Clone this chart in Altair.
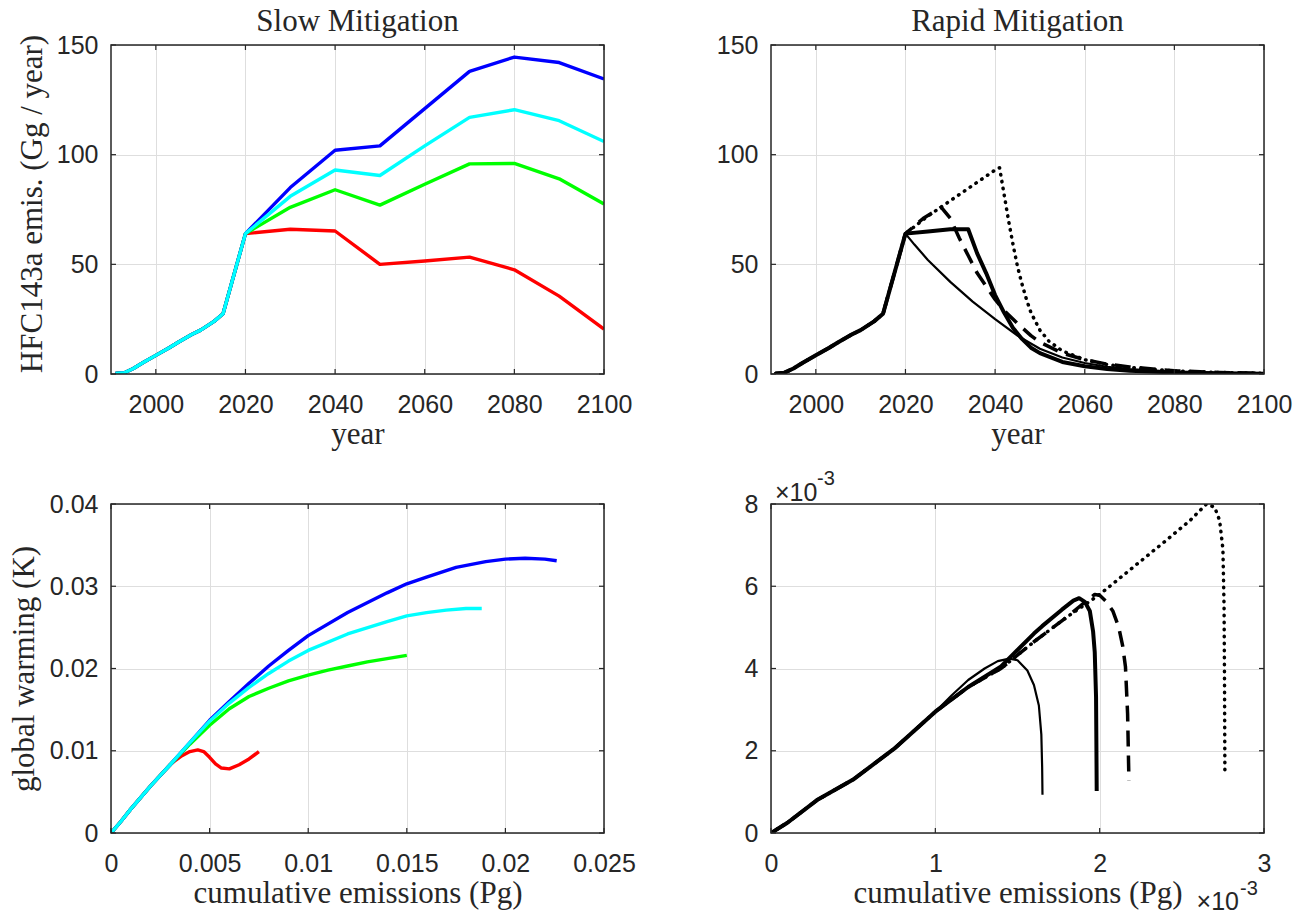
import altair as alt
import pandas as pd

# ---------------- data ----------------
# historical HFC143a emissions (Gg / year)
hist_years = [1991, 1993, 1995, 1997, 2000, 2003, 2005, 2008, 2010, 2013, 2015, 2020]
hist_emis = [0.2, 0.6, 2.5, 5.0, 8.5, 12.0, 14.5, 18.0, 20.0, 24.0, 27.5, 64.0]

# slow mitigation scenarios (after 2020)
slow_years = [2030, 2040, 2050, 2060, 2070, 2080, 2090, 2100]
slow_blue = [85, 102, 104, 121, 138, 144.5, 142, 134.5]
slow_cyan = [81, 93, 90.5, 104, 117, 120.5, 115.5, 106]
slow_green = [76, 84, 77, 86.5, 95.8, 96, 89, 77.5]
slow_red = [66, 65.2, 50, 51.5, 53.3, 47.5, 35.5, 20.5]

# rapid mitigation scenarios (after 2020)
thin_years = [2022, 2025, 2030, 2035, 2040, 2045, 2050, 2055, 2060, 2065, 2070, 2080, 2090, 2100]
thin_emis = [59, 52, 42, 33, 25, 17.5, 11.5, 7.5, 5, 3.3, 2.2, 1.0, 0.5, 0.2]
thick_years = [2025, 2030, 2034, 2036, 2038, 2040, 2042, 2044, 2046, 2048, 2050, 2055, 2060, 2065, 2070, 2080, 2090, 2100]
thick_emis = [65, 66, 66, 55, 46, 36, 28, 21, 16, 12, 9.5, 5.5, 3.5, 2.3, 1.5, 0.7, 0.3, 0.1]
dash_years = [2024, 2028, 2030, 2032, 2034, 2036, 2038, 2040, 2042, 2045, 2048, 2050, 2055, 2060, 2065, 2070, 2080, 2090, 2100]
dash_emis = [71, 76, 71, 62, 54, 46, 40, 34, 29, 23, 17.5, 14.5, 9.5, 6.5, 4.5, 3.2, 1.5, 0.7, 0.3]
dot_years = [2025, 2030, 2035, 2040, 2041, 2042, 2043, 2044, 2045, 2046, 2047, 2048, 2050, 2052, 2055, 2060, 2065, 2070, 2080, 2090, 2100]
dot_emis = [72, 79, 86, 93, 94, 82, 70, 59, 49, 41, 34, 28, 20, 15, 10.5, 6.5, 4.3, 3.0, 1.4, 0.7, 0.3]

# warming vs cumulative emissions, slow mitigation (Pg, K)
sw_common_x = [0, 0.0005, 0.001, 0.0015, 0.002, 0.0025, 0.003]
sw_common_y = [0, 0.0014, 0.0029, 0.0043, 0.0057, 0.0070, 0.0083]
sw_blue_x = [0.004, 0.005, 0.006, 0.007, 0.008, 0.009, 0.010, 0.012, 0.014, 0.015, 0.016, 0.0175, 0.019, 0.020, 0.021, 0.022, 0.0226]
sw_blue_y = [0.0110, 0.0137, 0.0160, 0.0182, 0.0203, 0.0222, 0.0240, 0.0268, 0.0292, 0.0303, 0.0311, 0.0323, 0.0330, 0.0333, 0.0334, 0.0333, 0.0331]
sw_cyan_x = [0.004, 0.005, 0.006, 0.007, 0.008, 0.009, 0.010, 0.012, 0.014, 0.015, 0.016, 0.017, 0.018, 0.0188]
sw_cyan_y = [0.0110, 0.0136, 0.0158, 0.0177, 0.0194, 0.0209, 0.0222, 0.0242, 0.0257, 0.0264, 0.0268, 0.0271, 0.0273, 0.0273]
sw_green_x = [0.004, 0.005, 0.006, 0.007, 0.008, 0.009, 0.010, 0.011, 0.012, 0.013, 0.014, 0.015]
sw_green_y = [0.0108, 0.0131, 0.0151, 0.0166, 0.0176, 0.0185, 0.0192, 0.0198, 0.0203, 0.0208, 0.0212, 0.0216]
sw_red_x = [0.0032, 0.0036, 0.004, 0.0044, 0.0047, 0.005, 0.0053, 0.0056, 0.006, 0.0065, 0.007, 0.0075]
sw_red_y = [0.0087, 0.0094, 0.0099, 0.0101, 0.0099, 0.0092, 0.0084, 0.0079, 0.0078, 0.0083, 0.0090, 0.0099]

# warming vs cumulative emissions, rapid mitigation (units of 1e-3)
rw_common_x = [0, 0.1, 0.28, 0.5, 0.75, 1.0]
rw_common_y = [0, 0.25, 0.8, 1.3, 2.05, 2.95]
rw_thin_x = [1.1, 1.2, 1.3, 1.38, 1.45, 1.5, 1.56, 1.6, 1.63, 1.645, 1.65, 1.652]
rw_thin_y = [3.35, 3.72, 4.0, 4.18, 4.24, 4.2, 3.95, 3.6, 3.1, 2.4, 1.6, 0.93]
rw_thick_x = [1.2, 1.4, 1.5, 1.6, 1.65, 1.77, 1.84, 1.875, 1.91, 1.94, 1.96, 1.97, 1.978, 1.98, 1.982]
rw_thick_y = [3.55, 4.05, 4.45, 4.85, 5.03, 5.43, 5.65, 5.71, 5.62, 5.4, 4.9, 4.4, 3.3, 2.2, 1.02]
rw_dash_x = [1.2, 1.4, 1.6, 1.8, 1.9, 1.97, 2.0, 2.04, 2.08, 2.115, 2.14, 2.157, 2.17, 2.178]
rw_dash_y = [3.55, 4.0, 4.65, 5.25, 5.58, 5.8, 5.78, 5.63, 5.4, 5.02, 4.55, 4.04, 2.9, 1.27]
rw_dot_x = [1.2, 1.4, 1.6, 1.8, 2.0, 2.2, 2.4, 2.55, 2.65, 2.7, 2.73, 2.75, 2.757, 2.76, 2.762]
rw_dot_y = [3.55, 4.0, 4.65, 5.25, 5.8, 6.45, 7.1, 7.6, 8.0, 7.92, 7.6, 6.9, 5.5, 3.5, 1.5]

# ---------------- style ----------------
W, H = 493, 329
SERIF = "Liberation Serif"
SANS = "Liberation Sans"
INK = "#262626"
TFS = 31  # serif text size
LW = 3.4  # coloured line width
BLUE, CYAN, GREEN, RED, BLACK = "#0000ff", "#00ffff", "#00ff00", "#ff0000", "#000000"


def df(xs, ys):
    return pd.DataFrame({"x": xs, "y": ys, "i": list(range(len(xs)))})


def panel(lines, x_dom, y_dom, x_vals, y_vals, x_title, y_title, y_title_x, y_title_y,
          title=None, extras=()):
    lab = dict(labelFont=SANS, labelFontSize=25, labelColor=INK, labelFlush=False,
               labelOverlap=False, grid=True, gridColor="#dedede", gridWidth=1,
               domain=False, ticks=False, tickSize=0, format="~r",
               titleFont=SERIF, titleFontSize=TFS, titleFontWeight="normal", titleColor=INK)
    X = alt.X("x:Q", scale=alt.Scale(domain=x_dom, nice=False, zero=False),
              axis=alt.Axis(values=x_vals, title=x_title, labelPadding=18,
                            titleX=W / 2, titleY=69, titleAlign="center",
                            titleBaseline="alphabetic", **lab))
    if y_title:
        yaxis = alt.Axis(values=y_vals, title=y_title, labelPadding=13,
                         titleX=y_title_x, titleY=y_title_y, titleAlign="center",
                         titleBaseline="alphabetic", titleAngle=270, **lab)
    else:
        yaxis = alt.Axis(values=y_vals, title=None, labelPadding=13, **lab)
    Y = alt.Y("y:Q", scale=alt.Scale(domain=y_dom, nice=False, zero=False), axis=yaxis)

    layers = []
    for d, color, width, dash, cap in lines:
        kw = dict(color=color, strokeWidth=width, clip=True, strokeCap=cap, strokeJoin="round")
        if dash:
            kw["strokeDash"] = dash
        layers.append(alt.Chart(d).mark_line(**kw).encode(x=X, y=Y, order="i:Q"))

    # inward MATLAB-style ticks on all four sides
    xt = pd.DataFrame({"x": x_vals})
    yt = pd.DataFrame({"y": y_vals})
    tk = dict(color=INK, strokeWidth=1.2)
    layers.append(alt.Chart(xt).mark_rule(**tk).encode(x=X, y=alt.value(H), y2=alt.value(H - 5)))
    layers.append(alt.Chart(xt).mark_rule(**tk).encode(x=X, y=alt.value(0), y2=alt.value(5)))
    layers.append(alt.Chart(yt).mark_rule(**tk).encode(y=Y, x=alt.value(0), x2=alt.value(5)))
    layers.append(alt.Chart(yt).mark_rule(**tk).encode(y=Y, x=alt.value(W - 5), x2=alt.value(W)))

    one = pd.DataFrame({"a": [0]})
    layers.append(alt.Chart(one).mark_rect(fillOpacity=0, stroke=INK, strokeWidth=1.5).encode(
        x=alt.value(0), x2=alt.value(W), y=alt.value(0), y2=alt.value(H)))
    items = list(extras)
    if title:
        items.append((title, W / 2, -14, TFS, "center", SERIF))
    for txt, x, y, size, align, font in items:
        layers.append(alt.Chart(one).mark_text(text=txt, font=font, fontSize=size, color=INK,
                                               align=align, baseline="alphabetic").encode(
            x=alt.value(x), y=alt.value(y)))
    return alt.layer(*layers).properties(width=W, height=H)


# top-left: slow mitigation emissions
hy = hist_years
he = hist_emis
tl = panel(
    [
        (df(hy + slow_years, he + slow_red), RED, LW, None, "butt"),
        (df(hy + slow_years, he + slow_green), GREEN, LW, None, "butt"),
        (df(hy + slow_years, he + slow_blue), BLUE, LW, None, "butt"),
        (df(hy + slow_years, he + slow_cyan), CYAN, LW, None, "butt"),
    ],
    [1990, 2100], [0, 150], [2000, 2020, 2040, 2060, 2080, 2100], [0, 50, 100, 150],
    "year", "HFC143a emis. (Gg / year)", -70, H / 2 - 6, title="Slow Mitigation")

# top-right: rapid mitigation emissions
tr = panel(
    [
        (df(hy + thin_years, he + thin_emis), BLACK, 2.2, None, "butt"),
        (df(hy + thick_years, he + thick_emis), BLACK, 4, None, "butt"),
        (df(hy + dash_years, he + dash_emis), BLACK, 3.5, [16, 9], "butt"),
        (df(hy + dot_years, he + dot_emis), BLACK, 3.5, [0.5, 6.5], "round"),
    ],
    [1990, 2100], [0, 150], [2000, 2020, 2040, 2060, 2080, 2100], [0, 50, 100, 150],
    "year", None, 0, 0, title="Rapid Mitigation")

# bottom-left: slow mitigation warming
cx, cy = sw_common_x, sw_common_y
bl = panel(
    [
        (df(cx + sw_red_x, cy + sw_red_y), RED, LW, None, "butt"),
        (df(cx + sw_green_x, cy + sw_green_y), GREEN, LW, None, "butt"),
        (df(cx + sw_blue_x, cy + sw_blue_y), BLUE, LW, None, "butt"),
        (df(cx + sw_cyan_x, cy + sw_cyan_y), CYAN, LW, None, "butt"),
    ],
    [0, 0.025], [0, 0.04], [0, 0.005, 0.01, 0.015, 0.02, 0.025], [0, 0.01, 0.02, 0.03, 0.04],
    "cumulative emissions (Pg)", "global warming (K)", -78, H / 2)

# bottom-right: rapid mitigation warming (x1e-3 units)
rx, ry = rw_common_x, rw_common_y
br = panel(
    [
        (df(rx + rw_thin_x, ry + rw_thin_y), BLACK, 2.2, None, "butt"),
        (df(rx + rw_thick_x, ry + rw_thick_y), BLACK, 4, None, "butt"),
        (df(rx + rw_dash_x, ry + rw_dash_y), BLACK, 3.5, [16, 9], "butt"),
        (df(rx + rw_dot_x, ry + rw_dot_y), BLACK, 3.5, [0.5, 6.5], "round"),
    ],
    [0, 3], [0, 8], [0, 1, 2, 3], [0, 2, 4, 6, 8],
    "cumulative emissions (Pg)", None, 0, 0,
    extras=[("×10", 4, -3, 25, "left", SANS), ("-3", 46, -19, 20, "left", SANS),
            ("×10", 468, 406, 25, "right", SANS), ("-3", 469, 391, 20, "left", SANS)])

chart = alt.concat(tl, tr, bl, br, columns=2, spacing={"row": 130, "column": 167},
                   bounds="flush").properties(
    padding={"left": 8, "top": 6, "right": 5, "bottom": 0},
    background="white",
).configure_view(strokeWidth=0)

chart.save("out.html", embed_options={"renderer": "svg", "actions": False})
